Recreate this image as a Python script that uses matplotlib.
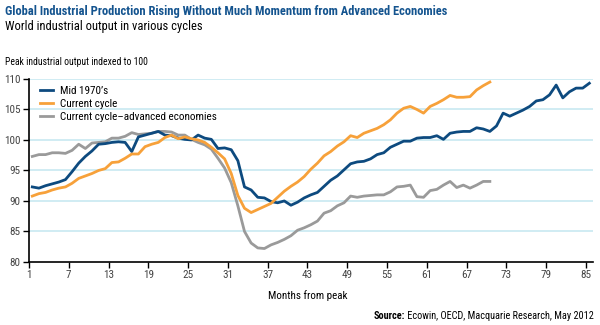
import matplotlib
matplotlib.use("Agg")
import matplotlib.pyplot as plt
from matplotlib import font_manager

months = list(range(1, 86))
tick_months = list(range(1, 86, 6))

mid_1970s = [
    92.3, 92.1, 92.5, 92.8, 93.1, 93.5, 94.8, 96.2, 97.3, 98.2,
    99.3, 99.4, 99.6, 99.7, 99.6, 98.1, 100.5, 100.8, 101.1, 101.4,
    100.8, 100.7, 100.3, 100.1, 100.0, 100.8, 100.3, 100.1, 98.6, 98.7,
    98.4, 96.6, 92.3, 91.8, 90.6, 90.5, 89.9, 89.7, 90.0, 89.3,
    89.8, 90.5, 91.0, 91.4, 92.4, 93.4, 94.1, 95.1, 96.1, 96.4,
    96.5, 96.9, 97.6, 97.9, 98.8, 99.3, 99.8, 99.8, 100.3, 100.4,
    100.4, 100.7, 100.1, 101.1, 101.3, 101.4, 101.4, 102.0, 101.8, 101.4,
    102.3, 104.4, 103.9, 104.4, 104.9, 105.5, 106.4, 106.6, 107.4, 109.0,
    106.9, 107.9, 108.5, 108.5, 109.3,
]
current = [
    90.8, 91.2, 91.4, 91.8, 92.1, 92.3, 92.9, 93.7, 94.1, 94.5,
    95.0, 95.3, 96.3, 96.4, 97.0, 97.7, 97.7, 98.9, 99.3, 99.6,
    100.4, 100.8, 100.2, 100.5, 100.2, 100.0, 99.6, 98.8, 97.9, 96.9,
    94.5, 90.9, 88.8, 88.1, 88.6, 89.1, 89.6, 90.6, 91.6, 92.4,
    93.1, 94.0, 95.2, 96.2, 97.4, 98.1, 99.0, 99.7, 100.7, 100.4,
    101.1, 101.5, 101.9, 102.5, 103.3, 104.4, 105.2, 105.5, 105.0, 104.4,
    105.5, 106.0, 106.6, 107.3, 107.0, 107.0, 107.1, 108.2, 108.9, 109.5,
]
advanced = [
    97.3, 97.6, 97.6, 97.9, 97.9, 97.8, 98.3, 99.3, 98.6, 99.5,
    99.6, 99.7, 100.3, 100.3, 100.6, 101.2, 100.9, 101.0, 101.1, 101.4,
    101.4, 101.3, 100.8, 100.8, 100.1, 99.6, 99.2, 98.5, 97.0, 95.4,
    93.0, 89.2, 85.0, 83.1, 82.3, 82.2, 82.8, 83.2, 83.7, 84.3,
    85.2, 85.6, 86.1, 86.7, 88.0, 88.4, 89.2, 89.7, 90.8, 90.6,
    90.8, 90.9, 91.0, 91.0, 91.5, 92.3, 92.4, 92.6, 90.7, 90.6,
    91.7, 91.9, 92.6, 93.2, 92.2, 92.6, 92.1, 92.6, 93.2, 93.2,
]

BLUE = "#0d4a7f"
ORANGE = "#f7a13a"
GREY = "#9a9a9a"
GRID = "#cdeaf2"
TITLE_BLUE = "#14548f"

installed = {f.name for f in font_manager.fontManager.ttflist}
candidates = ["Liberation Sans Narrow", "Roboto Condensed", "DejaVu Sans Condensed", "Roboto"]
NARROW = next((name for name in candidates if name in installed), "DejaVu Sans")
plt.rcParams["font.family"] = [NARROW, "DejaVu Sans"]

fig = plt.figure(figsize=(6, 3.25), dpi=100)
ax = fig.add_axes([0.0483, 0.194, 0.940, 0.563])

ax.plot(months, mid_1970s, color=BLUE, linewidth=2.0, label="Mid 1970\u2019s", zorder=3)
ax.plot(months[:len(current)], current, color=ORANGE, linewidth=2.0, label="Current cycle", zorder=3)
ax.plot(months[:len(advanced)], advanced, color=GREY, linewidth=2.0,
        label="Current cycle\u2013advanced economies", zorder=2)

ax.set_ylim(80, 110)
ax.set_xlim(0.5, 85.55)
ax.set_yticks(range(80, 111, 5))
for level in range(85, 111, 5):
    ax.axhline(level, color=GRID, linewidth=1.3, zorder=1)

# category ticks sit on the left edge of each month slot
ax.set_xticks([m - 0.5 for m in tick_months])
ax.set_xticklabels([str(m) for m in tick_months])

for side in ("top", "right"):
    ax.spines[side].set_visible(False)
for side in ("left", "bottom"):
    ax.spines[side].set_color("black")
    ax.spines[side].set_linewidth(1.2)
ax.tick_params(axis="both", colors="black", labelcolor="#444444", labelsize=8,
               length=4, width=1.0, direction="out", pad=2)

xlabel = fig.text(0.513, 0.092, "Months from peak", fontsize=8, ha="center", va="center")

leg = ax.legend(loc="upper left", frameon=False, fontsize=8, handlelength=1.2,
                handletextpad=0.6, labelspacing=0.3, borderaxespad=0.2,
                bbox_to_anchor=(0.008, 1.0))

title = fig.text(0.008, 0.965,
                 "Global Industrial Production Rising Without Much Momentum from Advanced Economies",
                 fontsize=11, fontweight="bold", color=TITLE_BLUE, ha="left", va="center")
subtitle = fig.text(0.008, 0.918, "World industrial output in various cycles",
                    fontsize=11, color="black", ha="left", va="center")
units = fig.text(0.008, 0.808, "Peak industrial output indexed to 100",
                 fontsize=8.5, color="black", ha="left", va="center")

fig.canvas.draw()
renderer = fig.canvas.get_renderer()


def fit(text, width_px):
    width = text.get_window_extent(renderer).width
    text.set_fontsize(text.get_fontsize() * width_px / width)


fit(title, 438)
fit(subtitle, 196)
fit(units, 141)
fit(xlabel, 80)

src = fig.text(0.99, 0.028, " Ecowin, OECD, Macquarie Research, May 2012",
               fontsize=8.5, color="black", ha="right", va="center")
fit(src, 188)
box = src.get_window_extent(renderer).transformed(fig.transFigure.inverted())
fig.text(box.x0, 0.028, "Source:", fontsize=src.get_fontsize(), fontweight="bold",
         color="black", ha="right", va="center")

fig.savefig("out.png", dpi=100)
